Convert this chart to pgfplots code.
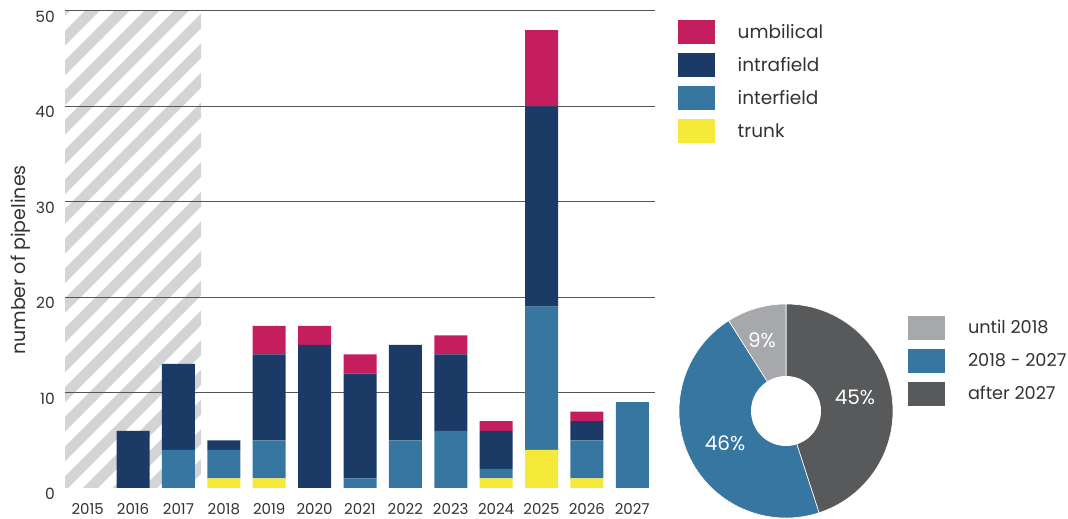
\documentclass[border=0pt]{standalone}
\usepackage{fontspec}
\setmainfont{Poppins}
\usepackage{pgfplots}
\pgfplotsset{compat=1.18}
\usetikzlibrary{patterns.meta}
\definecolor{umb}{HTML}{C41E5F}
\definecolor{intra}{HTML}{1B3A66}
\definecolor{inter}{HTML}{3776A1}
\definecolor{trunk}{HTML}{F5EA3A}
\definecolor{hatch}{HTML}{D3D4D5}
\definecolor{dgray}{HTML}{58595B}
\definecolor{lgray}{HTML}{A7A8AB}
\definecolor{txt}{HTML}{333333}
\definecolor{gridc}{HTML}{555555}
\pgfplotsset{swatch/.style={legend image code/.code={\fill[##1] (0pt,-12pt) rectangle (37pt,12pt);}}}
\pgfplotstableread{
year trunk interfield intrafield umbilical
2015 0 0 0 0
2016 0 0 6 0
2017 0 4 9 0
2018 1 3 1 0
2019 1 4 9 3
2020 0 0 15 2
2021 0 1 11 2
2022 0 5 10 0
2023 0 6 8 2
2024 1 1 4 1
2025 4 15 21 8
2026 1 4 2 1
2027 0 9 0 0
}\pipes
\begin{document}
\begin{tikzpicture}
\path[use as bounding box] (0pt,0pt) rectangle (1068pt,519pt);
% hatched background
\begin{axis}[at={(65pt,31pt)}, anchor=south west, scale only axis,
  width=590pt, height=477pt, xmin=2014.5, xmax=2027.5, ymin=0, ymax=50, hide axis]
\addplot[draw=none, pattern={Lines[angle=45,distance=21pt,line width=10.5pt]}, pattern color=hatch]
  coordinates {(2014.5,0) (2014.5,50) (2017.5,50) (2017.5,0)} -- cycle;
\end{axis}
% bars
\begin{axis}[at={(65pt,31pt)}, anchor=south west, scale only axis,
  width=590pt, height=477pt, xmin=2014.5, xmax=2027.5, ymin=0, ymax=50,
  ybar stacked, bar width=33pt,
  axis line style={draw=none}, major tick length=0pt,
  xtick={2015,...,2027}, ytick={0,10,...,50},
  extra y ticks={10,20,30,40,50}, extra y tick labels={},
  extra y tick style={grid=major},
  major grid style={draw=gridc, line width=1pt},
  tick label style={font=\fontsize{15.5}{18}\selectfont, text=txt},
  yticklabel style={anchor=north east, inner sep=0pt, xshift=-10pt},
  xticklabel style={anchor=base, inner sep=0pt, yshift=-27pt, font=\fontsize{15}{18}\selectfont},
  /pgf/number format/.cd, 1000 sep={}, assume math mode=true, /pgfplots/.cd,
  ylabel={number of pipelines},
  every axis y label/.style={at={(axis description cs:-0.0754,0.478)}, rotate=90, anchor=center,
    font=\fontsize{19}{22}\selectfont, text=txt},
  reverse legend,
  legend cell align=left,
  legend style={at={(rel axis cs:1.0385,0.981)}, anchor=north west, draw=none, fill=none,
    inner sep=0pt, outer sep=0pt, font=\fontsize{18.5}{21}\selectfont, text=txt,
    row sep=9pt, nodes={inner sep=0pt, anchor=west},
    /tikz/every odd column/.append style={column sep=23pt}},
]
\addplot[fill=trunk, draw=none, swatch] table[x=year, y=trunk] {\pipes};
\addplot[fill=inter, draw=none, swatch] table[x=year, y=interfield] {\pipes};
\addplot[fill=intra, draw=none, swatch] table[x=year, y=intrafield] {\pipes};
\addplot[fill=umb, draw=none, swatch] table[x=year, y=umbilical] {\pipes};
\legend{trunk, interfield, intrafield, umbilical}
\end{axis}
% donut
\def\pA{45}\def\pB{46}\def\pC{9}
\pgfmathsetmacro{\aA}{90-3.6*\pA}
\pgfmathsetmacro{\aB}{\aA-3.6*\pB}
\pgfmathsetmacro{\aC}{\aB-3.6*\pC}
\begin{axis}[at={(786pt,108pt)}, anchor=center, scale only axis,
  width=220pt, height=220pt, xmin=-110, xmax=110, ymin=-110, ymax=110, hide axis,
  legend cell align=left,
  legend style={at={(rel axis cs:1.0545,0.932)}, anchor=north west, draw=none, fill=none,
    inner sep=0pt, outer sep=0pt, font=\fontsize{17.7}{20}\selectfont, text=txt,
    row sep=9pt, nodes={inner sep=0pt, anchor=west},
    /tikz/every odd column/.append style={column sep=23pt}},
]
\addlegendimage{swatch, fill=lgray, draw=none}\addlegendentry{until 2018}
\addlegendimage{swatch, fill=inter, draw=none}\addlegendentry{2018 - 2027}
\addlegendimage{swatch, fill=dgray, draw=none}\addlegendentry{after 2027}
\fill[dgray, draw=white, line width=0.6pt] (axis cs:0,0) -- ++(90:107pt) arc[start angle=90, end angle=\aA, radius=107pt] -- cycle;
\fill[inter, draw=white, line width=0.6pt] (axis cs:0,0) -- ++(\aA:107pt) arc[start angle=\aA, end angle=\aB, radius=107pt] -- cycle;
\fill[lgray, draw=white, line width=0.6pt] (axis cs:0,0) -- ++(\aB:107pt) arc[start angle=\aB, end angle=\aC, radius=107pt] -- cycle;
\fill[white] (axis cs:0,0) circle[radius=35pt];
\node[text=white, font=\fontsize{20}{22}\selectfont] at (axis cs:69,14) {45\%};
\node[text=white, font=\fontsize{20}{22}\selectfont] at (axis cs:-61,-32) {46\%};
\node[text=white, font=\fontsize{20}{22}\selectfont] at (axis cs:-24,71) {9\%};
\end{axis}
\end{tikzpicture}
\end{document}
